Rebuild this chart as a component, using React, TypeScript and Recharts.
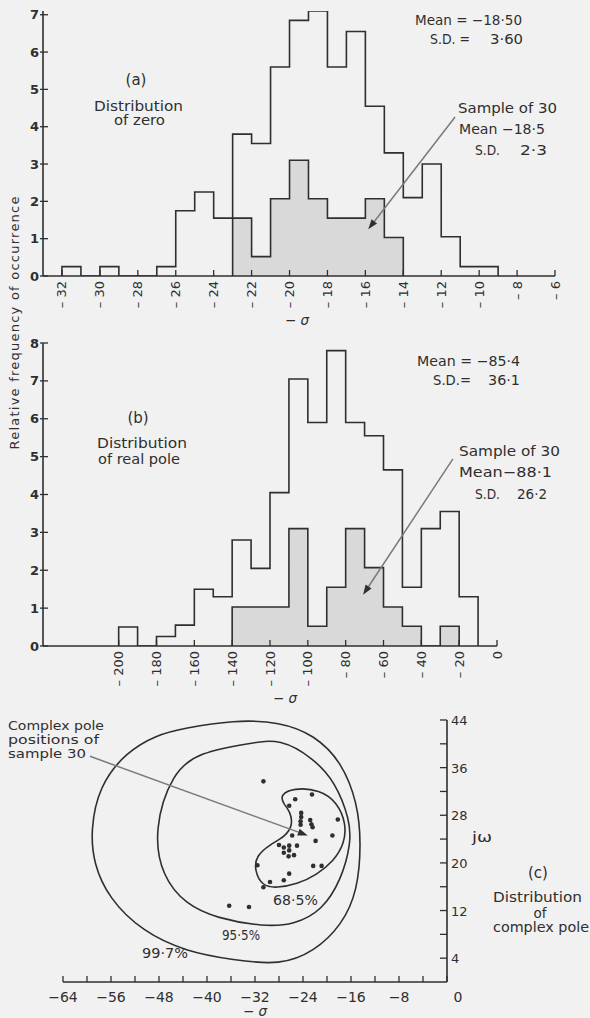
import React from 'react';
import { ComposedChart, Area, Line, Scatter, XAxis, YAxis, ReferenceLine } from 'recharts';

const INK = '#2f2f2f';
const GREY_ARROW = '#7a7a7a';
const SHADE = '#d9d9d9';
const BG = '#f1f1f1';
const FONT = '"DejaVu Sans", sans-serif';

// (a) distribution of zero, bins of width 1 (left edges)
const zeroEdges = [-32, -31, -30, -29, -28, -27, -26, -25, -24, -23, -22, -21, -20, -19, -18, -17, -16, -15, -14, -13, -12, -11, -10];
const zeroFreq = [0.25, 0, 0.25, 0, 0, 0.25, 1.75, 2.25, 1.55, 3.8, 3.55, 5.6, 6.85, 7.1, 5.6, 6.55, 4.55, 3.3, 2.1, 3.0, 1.05, 0.25, 0.25];
const zeroSampleEdges = [-23, -22, -21, -20, -19, -18, -17, -16, -15];
const zeroSampleFreq = [1.55, 0.52, 2.07, 3.1, 2.07, 1.55, 1.55, 2.07, 1.03];
const zeroXTicks = [-32, -30, -28, -26, -24, -22, -20, -18, -16, -14, -12, -10, -8, -6];
const zeroYTicks = [0, 1, 2, 3, 4, 5, 6, 7];

// (b) distribution of real pole, bins of width 10
const poleEdges = [-200, -190, -180, -170, -160, -150, -140, -130, -120, -110, -100, -90, -80, -70, -60, -50, -40, -30, -20];
const poleFreq = [0.5, 0, 0.25, 0.55, 1.5, 1.3, 2.8, 2.05, 4.05, 7.05, 5.9, 7.8, 5.9, 5.55, 4.65, 1.55, 3.1, 3.55, 1.3];
const poleSampleEdges = [-140, -130, -120, -110, -100, -90, -80, -70, -60, -50, -40, -30];
const poleSampleFreq = [1.03, 1.03, 1.03, 3.1, 0.52, 1.55, 3.1, 2.07, 1.03, 0.52, 0, 0.52];
const poleXTicks = [-200, -180, -160, -140, -120, -100, -80, -60, -40, -20, 0];
const poleYTicks = [0, 1, 2, 3, 4, 5, 6, 7, 8];

// (c) complex pole positions (sigma, j omega) of the sample of 30
const complexPoles = [
  { x: -30.6, y: 33.7 }, { x: -22.5, y: 31.5 }, { x: -25.3, y: 30.7 }, { x: -26.3, y: 29.6 },
  { x: -24.3, y: 28.4 }, { x: -24.3, y: 27.7 }, { x: -24.4, y: 27.0 }, { x: -24.4, y: 26.4 },
  { x: -22.8, y: 27.2 }, { x: -22.6, y: 26.5 }, { x: -22.4, y: 26.0 }, { x: -18.2, y: 27.3 },
  { x: -19.1, y: 24.6 }, { x: -21.9, y: 23.7 }, { x: -25.8, y: 24.6 }, { x: -27.2, y: 22.6 },
  { x: -26.3, y: 22.9 }, { x: -26.3, y: 22.1 }, { x: -25.0, y: 22.9 }, { x: -27.2, y: 21.7 },
  { x: -26.4, y: 21.1 }, { x: -25.5, y: 21.3 }, { x: -28.0, y: 23.0 }, { x: -22.3, y: 19.5 },
  { x: -20.9, y: 19.5 }, { x: -26.3, y: 18.2 }, { x: -27.2, y: 17.1 }, { x: -29.5, y: 16.8 },
  { x: -30.6, y: 15.9 }, { x: -31.6, y: 19.6 }, { x: -36.3, y: 12.8 }, { x: -33.0, y: 12.6 },
];

// confidence contours
const contour685 = [
  { x: -27.8, y: 31.4 }, { x: -25.6, y: 32.6 }, { x: -21.2, y: 32.3 }, { x: -18.3, y: 30.2 },
  { x: -16.8, y: 26.6 }, { x: -17.1, y: 23.2 }, { x: -18.9, y: 20.3 }, { x: -21.7, y: 18.0 },
  { x: -25.0, y: 16.4 }, { x: -28.4, y: 15.8 }, { x: -30.8, y: 16.1 }, { x: -32.1, y: 18.8 },
  { x: -31.8, y: 21.2 }, { x: -29.5, y: 23.1 }, { x: -27.0, y: 24.4 }, { x: -25.7, y: 26.3 },
  { x: -26.1, y: 28.6 }, { x: -27.3, y: 30.0 },
];
const contour955 = [
  { x: -48.9, y: 25.5 }, { x: -47.5, y: 17.7 }, { x: -43.5, y: 13.0 }, { x: -38.4, y: 10.7 },
  { x: -30.6, y: 9.3 }, { x: -25.5, y: 9.6 }, { x: -20.8, y: 12.0 }, { x: -17.6, y: 17.2 },
  { x: -16.0, y: 23.3 }, { x: -16.2, y: 27.2 }, { x: -18.6, y: 33.6 }, { x: -22.3, y: 37.6 },
  { x: -27.8, y: 40.9 }, { x: -32.8, y: 40.1 }, { x: -41.3, y: 38.6 }, { x: -45.8, y: 35.2 },
];
const contour997 = [
  { x: -59.4, y: 25.5 }, { x: -58.0, y: 32.9 }, { x: -53.5, y: 38.6 }, { x: -48.4, y: 41.5 },
  { x: -43.9, y: 42.6 }, { x: -35.6, y: 44.0 }, { x: -27.8, y: 43.7 }, { x: -22.1, y: 41.5 },
  { x: -17.5, y: 36.9 }, { x: -14.9, y: 30.0 }, { x: -14.3, y: 23.3 }, { x: -14.9, y: 15.3 },
  { x: -17.5, y: 9.6 }, { x: -22.1, y: 5.1 }, { x: -27.8, y: 2.8 }, { x: -35.6, y: 3.7 },
  { x: -43.5, y: 5.1 }, { x: -50.8, y: 8.5 }, { x: -56.4, y: 14.1 }, { x: -58.9, y: 19.9 },
];
const complexXTicks = [-64, -60, -56, -52, -48, -44, -40, -36, -32, -28, -24, -20, -16, -12, -8, -4, 0];
const complexYTicks = [4, 8, 12, 16, 20, 24, 28, 32, 36, 40, 44];

// histogram outline as stepAfter points, closed down to zero at both ends
function toSteps(edges: number[], values: number[], width: number) {
  const pts = [{ x: edges[0], y: 0 }];
  edges.forEach((e, i) => pts.push({ x: e, y: values[i] }));
  pts.push({ x: edges[edges.length - 1] + width, y: 0 });
  return pts;
}

const minus = (v: number, dash: string) => (v < 0 ? `${dash}${Math.abs(v)}` : `${v}`);

const LeftTick = (props: any) => {
  const { x, y, payload } = props;
  return (
    <g>
      <line x1={x - 3} x2={x + 5} y1={y} y2={y} stroke={INK} strokeWidth={1.3} />
      <text x={x - 4} y={y + 4.5} textAnchor="end" fontSize={13} fontWeight="bold" fill={INK} fontFamily={FONT}>
        {payload.value}
      </text>
    </g>
  );
};

const RotatedTick = (props: any) => {
  const { x, y, payload } = props;
  return (
    <g>
      <line x1={x} x2={x} y1={y - 6} y2={y} stroke={INK} strokeWidth={1.3} />
      <text
        x={x}
        y={y + 5}
        transform={`rotate(-90 ${x} ${y + 5})`}
        textAnchor="end"
        dominantBaseline="central"
        fontSize={13}
        fill={INK}
        fontFamily={FONT}
      >
        {minus(payload.value, '– ')}
      </text>
    </g>
  );
};

const ComplexXTick = (props: any) => {
  const { x, y, payload } = props;
  const v = payload.value as number;
  return (
    <g>
      <line x1={x} x2={x} y1={y - 6} y2={y} stroke={INK} strokeWidth={1.3} />
      {v % 8 === 0 && (
        <text x={v === 0 ? x + 11 : x} y={y + 20} textAnchor="middle" fontSize={14} fill={INK} fontFamily={FONT}>
          {minus(v, '−')}
        </text>
      )}
    </g>
  );
};

const ComplexYTick = (props: any) => {
  const { x, y, payload } = props;
  const v = payload.value as number;
  return (
    <g>
      <line x1={x - 7} x2={x} y1={y} y2={y} stroke={INK} strokeWidth={1.3} />
      {(v - 4) % 8 === 0 && (
        <text x={x + 4} y={y + 5} fontSize={13} fill={INK} fontFamily={FONT}>
          {v}
        </text>
      )}
    </g>
  );
};

const Arrow = (p: any) => {
  const { x1, y1, x2, y2 } = p;
  const a = Math.atan2(y2 - y1, x2 - x1);
  const len = 10;
  const half = 3.5;
  const bx = x2 - len * Math.cos(a);
  const by = y2 - len * Math.sin(a);
  const pts = `${x2},${y2} ${bx - half * Math.sin(a)},${by + half * Math.cos(a)} ${bx + half * Math.sin(a)},${by - half * Math.cos(a)}`;
  return (
    <g>
      <line x1={x1} y1={y1} x2={bx} y2={by} stroke={GREY_ARROW} strokeWidth={1.5} />
      <polygon points={pts} fill={INK} />
    </g>
  );
};

const Dot = (p: any) => <circle cx={p.cx} cy={p.cy} r={2.3} fill={INK} />;

const axisLine = { stroke: INK, strokeWidth: 1.6 };

type Txt = { t: string; x: number; y: number; len?: number; anchor?: 'start' | 'middle' | 'end'; size?: number; it?: string };

const notes: Txt[] = [
  // (a)
  { t: '(a)', x: 136, y: 85, anchor: 'middle', size: 15 },
  { t: 'Distribution', x: 94, y: 111, len: 89 },
  { t: 'of zero', x: 114, y: 125, len: 51 },
  { t: 'Mean = −18·50', x: 415, y: 25, len: 107 },
  { t: 'S.D. =', x: 430, y: 44, len: 40 },
  { t: '3·60', x: 490, y: 44, len: 33 },
  { t: 'Sample of 30', x: 458, y: 113, len: 99 },
  { t: 'Mean −18·5', x: 459, y: 134, len: 86 },
  { t: 'S.D.', x: 475, y: 155, len: 25 },
  { t: '2·3', x: 520, y: 155, len: 27 },
  { t: '− ', it: 'σ', x: 297, y: 325, anchor: 'middle' },
  // (b)
  { t: '(b)', x: 138, y: 423, anchor: 'middle', size: 15 },
  { t: 'Distribution', x: 97, y: 448, len: 90 },
  { t: 'of real pole', x: 98, y: 464, len: 82 },
  { t: 'Mean = −85·4', x: 417, y: 366, len: 103 },
  { t: 'S.D.=', x: 433, y: 385, len: 38 },
  { t: '36·1', x: 488, y: 385, len: 32 },
  { t: 'Sample of 30', x: 459, y: 456, len: 101 },
  { t: 'Mean−88·1', x: 459, y: 477, len: 93 },
  { t: 'S.D.', x: 475, y: 499, len: 25 },
  { t: '26·2', x: 517, y: 499, len: 30 },
  { t: '− ', it: 'σ', x: 285, y: 703, anchor: 'middle' },
  // (c)
  { t: 'Complex pole', x: 8, y: 730, len: 96, size: 12 },
  { t: 'positions of', x: 8, y: 744, len: 91, size: 12 },
  { t: 'sample 30', x: 8, y: 758, len: 78, size: 12 },
  { t: '68·5%', x: 273, y: 905, len: 45 },
  { t: '95·5%', x: 222, y: 940, len: 38 },
  { t: '99·7%', x: 142, y: 958, len: 46 },
  { t: 'jω', x: 472, y: 842, len: 20 },
  { t: '(c)', x: 538, y: 878, anchor: 'middle', size: 15 },
  { t: 'Distribution', x: 493, y: 902, len: 89 },
  { t: 'of', x: 540, y: 918, anchor: 'middle' },
  { t: 'complex pole', x: 493, y: 932, len: 96 },
  { t: '− ', it: 'σ', x: 255, y: 1016, anchor: 'middle' },
];

function Histogram(props: {
  top: number;
  height: number;
  margin: { top: number; right: number; bottom: number; left: number };
  domain: [number, number];
  yMax: number;
  xTicks: number[];
  yTicks: number[];
  all: { x: number; y: number }[];
  sample: { x: number; y: number }[];
  arrow: [{ x: number; y: number }, { x: number; y: number }];
}) {
  return (
    <div style={{ position: 'absolute', left: 0, top: props.top }}>
      <ComposedChart width={590} height={props.height} margin={props.margin}>
        <XAxis
          dataKey="x"
          type="number"
          domain={props.domain}
          ticks={props.xTicks}
          interval={0}
          height={30}
          tickSize={0}
          tickMargin={0}
          axisLine={axisLine}
          tick={<RotatedTick />}
          allowDataOverflow
        />
        <YAxis
          type="number"
          domain={[0, props.yMax]}
          ticks={props.yTicks}
          interval={0}
          width={30}
          tickSize={0}
          tickMargin={0}
          axisLine={axisLine}
          tick={<LeftTick />}
          allowDataOverflow
        />
        <Area
          data={props.sample}
          dataKey="y"
          type="stepAfter"
          stroke={INK}
          strokeWidth={1.6}
          fill={SHADE}
          fillOpacity={1}
          isAnimationActive={false}
          dot={false}
          activeDot={false}
        />
        <Line
          data={props.all}
          dataKey="y"
          type="stepAfter"
          stroke={INK}
          strokeWidth={1.6}
          dot={false}
          activeDot={false}
          isAnimationActive={false}
        />
        <ReferenceLine segment={props.arrow} ifOverflow="visible" shape={<Arrow />} />
      </ComposedChart>
    </div>
  );
}

export default function App() {
  return (
    <div style={{ position: 'absolute', left: 0, top: 0, width: 590, height: 1018, background: BG, overflow: 'hidden' }}>
      <Histogram
        top={0}
        height={330}
        margin={{ top: 11, right: 35, bottom: 24, left: 13 }}
        domain={[-33, -6]}
        yMax={7.1}
        xTicks={zeroXTicks}
        yTicks={zeroYTicks}
        all={toSteps(zeroEdges, zeroFreq, 1)}
        sample={toSteps(zeroSampleEdges, zeroSampleFreq, 1)}
        arrow={[{ x: -11.27, y: 4.26 }, { x: -15.85, y: 1.25 }]}
      />
      <Histogram
        top={330}
        height={380}
        margin={{ top: 13, right: 93, bottom: 34, left: 13 }}
        domain={[-240, 0]}
        yMax={8}
        xTicks={poleXTicks}
        yTicks={poleYTicks}
        all={toSteps(poleEdges, poleFreq, 10)}
        sample={toSteps(poleSampleEdges, poleSampleFreq, 10)}
        arrow={[{ x: -23.3, y: 4.94 }, { x: -70.8, y: 1.35 }]}
      />

      <div style={{ position: 'absolute', left: 0, top: 700 }}>
        <ComposedChart width={590} height={318} margin={{ top: 20, right: 103, bottom: 12, left: 63 }}>
          <XAxis
            dataKey="x"
            type="number"
            domain={[-64, 0]}
            ticks={complexXTicks}
            interval={0}
            height={24}
            tickSize={0}
            tickMargin={0}
            axisLine={axisLine}
            tick={<ComplexXTick />}
            allowDataOverflow
          />
          <YAxis
            orientation="right"
            type="number"
            domain={[0, 44]}
            ticks={complexYTicks}
            interval={0}
            width={40}
            tickSize={0}
            tickMargin={0}
            axisLine={axisLine}
            tick={<ComplexYTick />}
            allowDataOverflow
          />
          {[contour997, contour955, contour685].map((c, i) => (
            <Line
              key={i}
              data={c}
              dataKey="y"
              type="basisClosed"
              stroke={INK}
              strokeWidth={1.6}
              dot={false}
              activeDot={false}
              isAnimationActive={false}
            />
          ))}
          <Scatter data={complexPoles} dataKey="y" shape={<Dot />} isAnimationActive={false} />
          <ReferenceLine
            segment={[{ x: -59.5, y: 37.9 }, { x: -23.2, y: 24.6 }]}
            ifOverflow="visible"
            shape={<Arrow />}
          />
        </ComposedChart>
      </div>

      <svg width={590} height={1018} style={{ position: 'absolute', left: 0, top: 0, pointerEvents: 'none' }}>
        <text
          x={14}
          y={323}
          transform="rotate(-90 14 323)"
          textAnchor="middle"
          dominantBaseline="central"
          fontSize={13}
          fill={INK}
          fontFamily={FONT}
          textLength={253}
          lengthAdjust="spacing"
        >
          Relative frequency of occurrence
        </text>
        {notes.map((n, i) => (
          <text
            key={i}
            x={n.x}
            y={n.y}
            textAnchor={n.anchor ?? 'start'}
            fontSize={n.size ?? 13.5}
            fill={INK}
            fontFamily={FONT}
            textLength={n.len}
            lengthAdjust={n.len ? 'spacingAndGlyphs' : undefined}
          >
            {n.t}
            {n.it && <tspan fontStyle="italic">{n.it}</tspan>}
          </text>
        ))}
      </svg>
    </div>
  );
}
